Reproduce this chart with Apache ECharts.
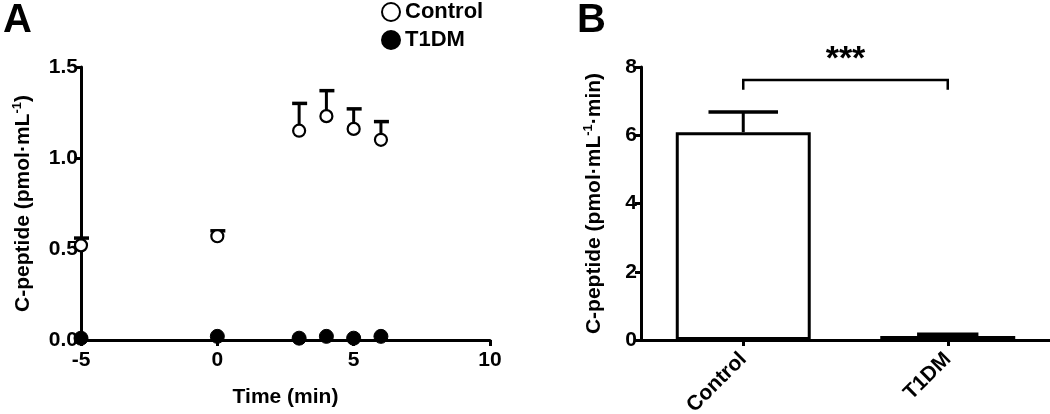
<!DOCTYPE html>
<html><head><meta charset="utf-8">
<script src="https://cdn.jsdelivr.net/npm/echarts@6/dist/echarts.min.js"></script>
<style>html,body{margin:0;padding:0;background:#fff}#c{width:1050px;height:414px}</style>
</head><body><div id="c"></div>
<script>
// Panel A data
const timePoints = [-5, 0, 3, 4, 5, 6];
const controlMean = [0.52, 0.57, 1.15, 1.23, 1.16, 1.10];
const controlUpper = [0.56, 0.60, 1.30, 1.37, 1.27, 1.20];
const t1dmMean = [0.01, 0.02, 0.01, 0.02, 0.01, 0.02];
const xTicksA = [-5, 0, 5, 10];
const yTicksA = [0, 0.5, 1.0, 1.5];
// Panel B data
const groups = ['Control', 'T1DM'];
const aucMean = [6.09, 0.12];
const aucUpper = [6.68, 0.17];
const bracket = [[0, 1, 7.62, 7.33]];
const sigLabel = '***';

const FONT = 'Liberation Sans';
const chart = echarts.init(document.getElementById('c'));
const lbl = {color: '#000', fontFamily: FONT, fontWeight: 'bold', fontSize: 21};
const axLine = {onZero: false, lineStyle: {color: '#000', width: 3}};
const axTick = {show: true, inside: false, length: 6, lineStyle: {color: '#000', width: 3}};

const scatterCtl = timePoints.map((t, i) => [t, controlMean[i]]);
const scatterT1 = timePoints.map((t, i) => [t, t1dmMean[i]]);
const errA = timePoints.map((t, i) => [t, controlMean[i], controlUpper[i]]);
const errB = groups.map((g, i) => [i, aucMean[i], aucUpper[i]]);
const supRich = {sup: {fontFamily: FONT, fontWeight: 'bold', fontSize: 13, color: '#000', verticalAlign: 'top', lineHeight: 12}};

chart.setOption({
  animation: false,
  title: [
    {text: 'A', left: -2, top: -4, textStyle: {fontFamily: FONT, fontWeight: 'bold', fontSize: 40, color: '#000'}},
    {text: 'B', left: 572, top: -4, textStyle: {fontFamily: FONT, fontWeight: 'bold', fontSize: 40, color: '#000'}}
  ],
  legend: {
    data: ['Control', 'T1DM'], orient: 'vertical', left: 376, top: -4, itemGap: 6,
    itemWidth: 18, itemHeight: 18, icon: 'circle',
    textStyle: {fontFamily: FONT, fontWeight: 'bold', fontSize: 22, color: '#000'}
  },
  grid: [
    {left: 81, right: 560, top: 67, bottom: 74, outerBoundsMode: 'none', containLabel: false},
    {left: 641, right: 0, top: 67, bottom: 74, outerBoundsMode: 'none', containLabel: false}
  ],
  xAxis: [
    {type: 'value', gridIndex: 0, min: xTicksA[0], max: xTicksA[xTicksA.length - 1], interval: 5,
     splitLine: {show: false}, axisLine: axLine, axisTick: axTick,
     axisLabel: Object.assign({margin: 10}, lbl),
     name: 'Time (min)', nameLocation: 'middle', nameGap: 47,
     nameTextStyle: Object.assign({}, lbl, {fontSize: 21})},
    {type: 'category', gridIndex: 1, data: groups, axisLine: axLine,
     axisTick: Object.assign({alignWithLabel: true}, axTick),
     axisLabel: Object.assign({rotate: 45, margin: 16}, lbl)}
  ],
  yAxis: [
    {type: 'value', gridIndex: 0, min: yTicksA[0], max: yTicksA[yTicksA.length - 1], interval: 0.5,
     splitLine: {show: false}, axisLine: Object.assign({show: true}, axLine), axisTick: axTick,
     axisLabel: Object.assign({margin: 3, formatter: v => v.toFixed(1)}, lbl),
     name: 'C-peptide (pmol·mL{sup|-1})', nameLocation: 'middle', nameRotate: 90, nameGap: 46,
     nameTextStyle: Object.assign({}, lbl, {fontSize: 21, lineHeight: 24, rich: supRich})},
    {type: 'value', gridIndex: 1, min: 0, max: 8, interval: 2,
     splitLine: {show: false}, axisLine: Object.assign({show: true}, axLine), axisTick: axTick,
     axisLabel: Object.assign({margin: 4}, lbl),
     name: 'C-peptide (pmol·mL{sup|-1}·min)', nameLocation: 'middle', nameRotate: 90, nameGap: 35,
     nameTextStyle: Object.assign({}, lbl, {fontSize: 21, lineHeight: 24, rich: supRich})}
  ],
  series: [
    {type: 'custom', xAxisIndex: 0, yAxisIndex: 0, z: 2, data: errA, clip: false,
     renderItem: (params, api) => {
       const p0 = api.coord([api.value(0), api.value(1)]);
       const p1 = api.coord([api.value(0), api.value(2)]);
       const st = {stroke: '#000', lineWidth: 3};
       return {type: 'group', children: [
         {type: 'line', shape: {x1: p0[0], y1: p0[1], x2: p1[0], y2: p1[1]}, style: st},
         {type: 'line', shape: {x1: p1[0] - 7, y1: p1[1], x2: p1[0] + 8, y2: p1[1]}, style: Object.assign({}, st, {lineWidth: 3.5})}
       ]};
     }},
    {name: 'Control', type: 'scatter', xAxisIndex: 0, yAxisIndex: 0, z: 5, data: scatterCtl, clip: false,
     symbol: 'circle', symbolSize: 12, itemStyle: {color: '#fff', borderColor: '#000', borderWidth: 2.2, opacity: 1}},
    {name: 'T1DM', type: 'scatter', xAxisIndex: 0, yAxisIndex: 0, z: 5, data: scatterT1, clip: false,
     symbol: 'circle', symbolSize: 14, itemStyle: {color: '#000', borderColor: '#000', borderWidth: 1, opacity: 1}},
    {type: 'bar', xAxisIndex: 1, yAxisIndex: 1, barWidth: '66%', z: 3,
     data: aucMean.map((v, i) => ({value: v, itemStyle: i === 0
        ? {color: '#fff', borderColor: '#000', borderWidth: 3}
        : {color: '#000', borderColor: '#000', borderWidth: 3}}))},
    {type: 'custom', xAxisIndex: 1, yAxisIndex: 1, z: 4, data: errB, clip: false,
     renderItem: (params, api) => {
       const p0 = api.coord([api.value(0), api.value(1)]);
       const p1 = api.coord([api.value(0), api.value(2)]);
       const band = api.size([1, 0])[0];
       const hw = band * (params.dataIndex === 0 ? 0.17 : 0.15);
       const st = {stroke: '#000', lineWidth: 3};
       return {type: 'group', children: [
         {type: 'line', shape: {x1: p0[0], y1: p0[1], x2: p1[0], y2: p1[1]}, style: st},
         {type: 'line', shape: {x1: p1[0] - hw, y1: p1[1], x2: p1[0] + hw, y2: p1[1]}, style: Object.assign({}, st, {lineWidth: 3.5})}
       ]};
     }},
    {type: 'custom', xAxisIndex: 1, yAxisIndex: 1, z: 4, data: bracket, clip: false,
     renderItem: (params, api) => {
       const a = api.coord([api.value(0), api.value(2)]);
       const b = api.coord([api.value(1), api.value(2)]);
       const a2 = api.coord([api.value(0), api.value(3)]);
       const b2 = api.coord([api.value(1), api.value(3)]);
       return {type: 'group', children: [
         {type: 'polyline', shape: {points: [[a2[0], a2[1]], [a[0], a[1]], [b[0], b[1]], [b2[0], b2[1]]]},
          style: {stroke: '#000', lineWidth: 2.5, fill: null}},
         {type: 'text', x: (a[0] + b[0]) / 2, y: a[1] - 20,
          style: {text: sigLabel, fontFamily: FONT, fontWeight: 'bold', fontSize: 34, fill: '#000',
                  align: 'center', verticalAlign: 'middle'}}
       ]};
     }}
  ]
});
</script></body></html>
